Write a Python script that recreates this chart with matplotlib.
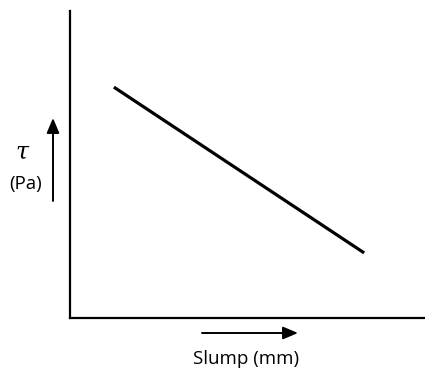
import matplotlib
matplotlib.use("Agg")
import matplotlib.pyplot as plt

# Schematic relation: yield stress falls as slump rises (arbitrary units)
slump = [1.24, 8.31]
tau = [7.52, 2.12]

W, H = 425, 371
fig = plt.figure(figsize=(W / 100, H / 100), dpi=100)
ax = fig.add_axes([70 / W, 1 - 318 / H, (424 - 70) / W, (318 - 11) / H])
ax.set_xlim(0, 10)
ax.set_ylim(0, 10)
for side in ("top", "right"):
    ax.spines[side].set_visible(False)
for side in ("left", "bottom"):
    ax.spines[side].set_linewidth(1.6)
    ax.spines[side].set_color("black")
ax.set_xticks([])
ax.set_yticks([])
ax.patch.set_alpha(0)

ax.plot(slump, tau, color="black", lw=2.3, solid_capstyle="butt")


def fx(px):
    return px / W


def fy(py):
    return 1 - py / H


arrow_style = dict(arrowstyle="-|>,head_length=0.9,head_width=0.38",
                   color="black", lw=1.4, shrinkA=0, shrinkB=0)

# horizontal axis direction arrow
ax.annotate("", xy=(fx(298), fy(333)), xytext=(fx(202), fy(333)),
            xycoords=fig.transFigure, textcoords=fig.transFigure,
            arrowprops=arrow_style, annotation_clip=False)
# vertical axis direction arrow
ax.annotate("", xy=(fx(53), fy(118)), xytext=(fx(53), fy(201)),
            xycoords=fig.transFigure, textcoords=fig.transFigure,
            arrowprops=arrow_style, annotation_clip=False)

fig.text(fx(246), fy(359), "Slump (mm)", ha="center", va="center",
         fontsize=13.5, family="Open Sans")
fig.text(fx(22), fy(152), "τ", ha="center", va="center",
         fontsize=17, family="DejaVu Serif", style="italic")
fig.text(fx(26), fy(184), "(Pa)", ha="center", va="center",
         fontsize=13.5, family="Open Sans")

fig.savefig("out.png", dpi=100, facecolor="white")
